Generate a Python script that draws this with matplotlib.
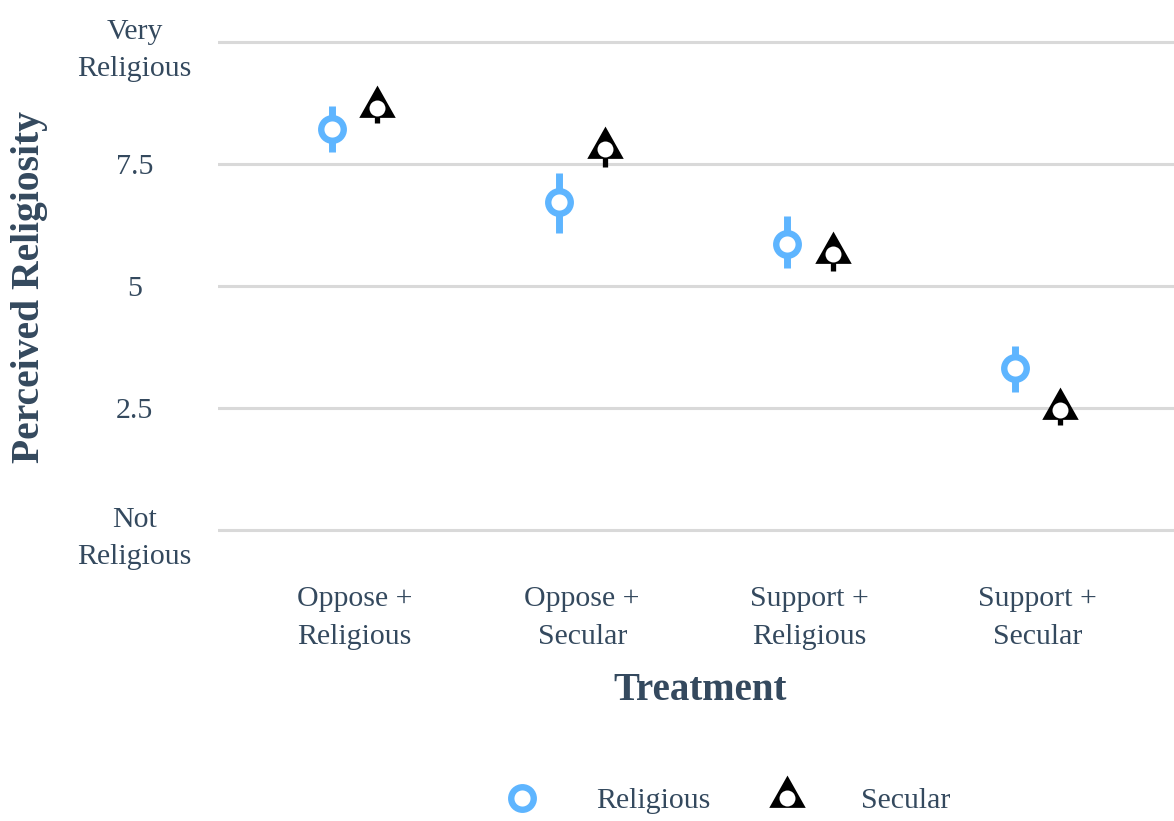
import matplotlib
matplotlib.use("Agg")
import matplotlib.pyplot as plt
from matplotlib.lines import Line2D
from matplotlib.legend_handler import HandlerTuple
from matplotlib.path import Path
import numpy as np

categories = ["Oppose +\nReligious", "Oppose +\nSecular", "Support +\nReligious", "Support +\nSecular"]
religious_mean = [8.22, 6.73, 5.86, 3.32]
religious_low = [7.75, 6.09, 5.36, 2.83]
religious_high = [8.69, 7.32, 6.43, 3.77]
secular_mean = [8.65, 7.80, 5.66, 2.45]
secular_low = [8.33, 7.44, 5.31, 2.15]
secular_high = [8.97, 8.16, 6.01, 2.75]
ytick_vals = [0, 2.5, 5, 7.5, 10]
ytick_labels = ["Not\nReligious", "2.5", "5", "7.5", "Very\nReligious"]

BLUE = "#5eb5ff"
TXT = "#34495e"
GRID = "#d9d9d9"
FONT = ["Liberation Serif", "DejaVu Serif"]
plt.rcParams["font.family"] = FONT

# triangle marker (point centre lies low inside the triangle, as in the reference)
TRI = Path([(0, 22), (17.5, -9), (-17.5, -9), (0, 22)],
           [Path.MOVETO, Path.LINETO, Path.LINETO, Path.CLOSEPOLY])
TRI_MS = 33.0
DOT_MS = 11.5
CIRC_MS = 16.2
CIRC_MEW = 4.6

fig = plt.figure(figsize=(11.74, 8.21), dpi=100)
L = 218 / 1174
B = (821 - 554.4) / 821
T = (821 - 17.6) / 821
ax = fig.add_axes([L, B, 1 - L, T - B])

x = np.arange(1, len(categories) + 1)
d = 0.1

for yv in ytick_vals:
    ax.axhline(yv, color=GRID, lw=2.2, zorder=0)

# Religious
rx = x - d
ax.vlines(rx, religious_low, religious_high, color=BLUE, lw=5.0, zorder=2)
ax.plot(rx, religious_mean, ls="none", marker="o", ms=CIRC_MS, mfc="white", mec=BLUE,
        mew=CIRC_MEW, zorder=3)

# Secular
sx = x + d
ax.vlines(sx, secular_low, secular_high, color="black", lw=3.8, zorder=2)
ax.plot(sx, secular_mean, ls="none", marker=TRI, ms=TRI_MS, mfc="black", mec="black", mew=0, zorder=3)
ax.plot(sx, secular_mean, ls="none", marker="o", ms=DOT_MS, mfc="white", mec="white", mew=0, zorder=4)

ax.set_xlim(0.4, 4.6)
ax.set_ylim(-0.5, 10.5)
ax.set_xticks(x)
ax.set_xticklabels(categories, fontsize=21.5, color=TXT, linespacing=1.56)
ax.set_yticks(ytick_vals)
ax.set_yticklabels(ytick_labels, fontsize=21.5, color=TXT, linespacing=1.56, ha="center")
ax.tick_params(axis="both", length=0)
ax.tick_params(axis="x", pad=23)
ax.tick_params(axis="y", pad=60)
for s in ax.spines.values():
    s.set_visible(False)

ax.set_xlabel("Treatment", fontsize=28, fontweight="bold", color=TXT, labelpad=16)
ax.xaxis.label.set_x((700 - 218) / (1174 - 218))
fig.text(30 / 1174, 1 - 287 / 821, "Perceived Religiosity", rotation=90, fontsize=28.5,
         fontweight="bold", color=TXT, ha="center", va="center")

h_rel = Line2D([], [], ls="none", marker="o", ms=CIRC_MS, mfc="white", mec=BLUE, mew=CIRC_MEW)
h_sec1 = Line2D([], [], ls="none", marker=TRI, ms=TRI_MS, mfc="black", mec="black", mew=0)
h_sec2 = Line2D([], [], ls="none", marker="o", ms=DOT_MS, mfc="white", mec="white", mew=0)
leg = fig.legend([h_rel, (h_sec1, h_sec2)], ["Religious", "Secular"],
                 handler_map={tuple: HandlerTuple(ndivide=1, pad=0)},
                 loc="center", bbox_to_anchor=(725 / 1174, 1 - 801 / 821),
                 ncol=2, frameon=False, fontsize=21.5, handletextpad=1.73,
                 columnspacing=1.8, handlelength=1.5, borderpad=0, borderaxespad=0)
for t in leg.get_texts():
    t.set_color(TXT)

fig.savefig("out.png", dpi=100)
